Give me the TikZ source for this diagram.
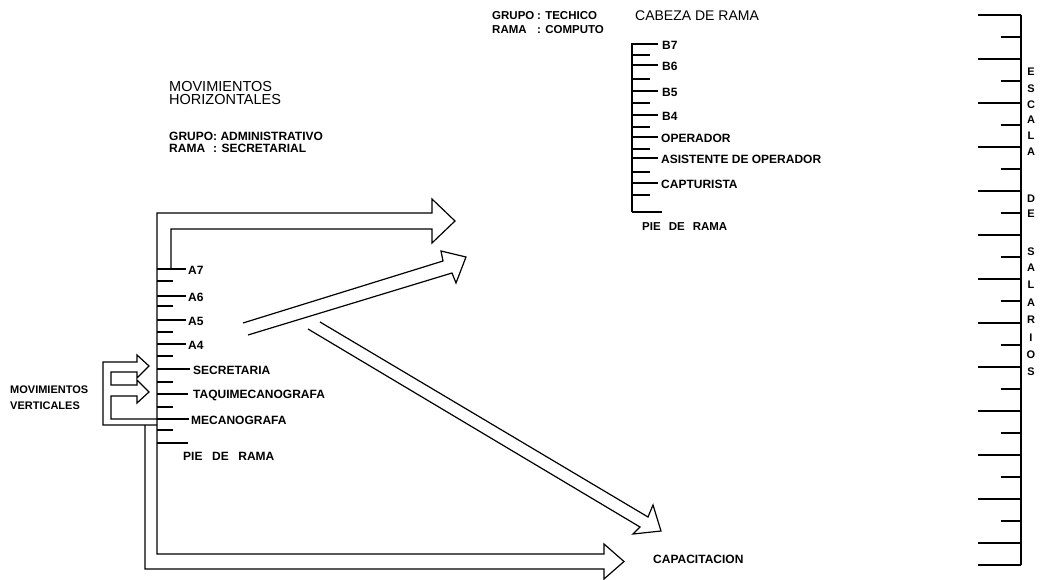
\documentclass[tikz,border=0pt]{standalone}
\usepackage{fontspec}
\setmainfont{Liberation Sans}
\begin{document}
\tikzset{
  ln/.style={line width=1.2pt},
  lb/.style={font=\bfseries\fontsize{12}{13}\selectfont, anchor=west, inner sep=0pt},
  sm/.style={font=\bfseries\fontsize{11.5}{12}\selectfont, anchor=west, inner sep=0pt},
  hd/.style={font=\fontsize{14.5}{15}\selectfont, anchor=west, inner sep=0pt},
  vl/.style={font=\bfseries\fontsize{11}{12}\selectfont, inner sep=0pt},
}
\begin{tikzpicture}[x=1pt,y=-1pt]
\fill[white] (0,0) rectangle (1041,580);
\path[use as bounding box] (0,0) rectangle (1041,580);

% ---------- headings left ----------
\node[hd] (mh1) at (169,87) {MOVIMIENTOS};
\node[hd] (mh2) at (169,100) {HORIZONTALES};
\node[lb] (ga) at (169,136) {GRUPO: ADMINISTRATIVO};
\node[lb] (ra) at (169,148) {\makebox[44pt][l]{RAMA}: SECRETARIAL};

% ---------- headings top ----------
\node[sm] (gt) at (492,16) {\makebox[45pt][l]{GRUPO}: TECHICO};
\node[sm] (rt) at (492,30) {\makebox[45pt][l]{RAMA}: COMPUTO};
\node[font=\fontsize{14}{15}\selectfont, anchor=west, inner sep=0pt] (cab) at (635,16) {CABEZA DE RAMA};

% ---------- top/bottom block arrows and left ladder spine ----------
\draw[ln] (171,269) -- (171,229) -- (432,229) -- (432,243) -- (455,221) -- (432,199) -- (432,213)
  -- (157,213) -- (157,554) -- (604,554) -- (604,544) -- (624,561.5) -- (604,579) -- (604,569)
  -- (145,569) -- (145,425);

% ---------- vertical movements bracket ----------
\draw[ln] (157,419) -- (111,419) -- (111,396) -- (137,396) -- (137,403) -- (149,392) -- (137,380)
  -- (137,385) -- (111,385) -- (111,372) -- (137,372) -- (137,378) -- (149,366) -- (137,355)
  -- (137,362) -- (103,362) -- (103,425) -- (157,425);

% ---------- left ladder ticks ----------
\foreach \y in {269,296,320,344} \draw[ln] (157,\y) -- (186,\y);
\foreach \y in {281,306,332,356,382,407,430} \draw[ln] (157,\y) -- (173,\y);
\draw[ln] (157,369) -- (190,369);
\draw[ln] (157,394) -- (188,394);
\draw[ln] (157,419) -- (189,419);
\draw[ln] (157,443) -- (188,443);

\node[lb] (a7) at (188,270) {A7};
\node[lb] (a6) at (188,297) {A6};
\node[lb] (a5) at (188,321) {A5};
\node[lb] (a4) at (188,345) {A4};
\node[lb] (sec) at (193,370) {SECRETARIA};
\node[lb] (taq) at (193,395) {TAQUIMECANOGRAFA};
\node[lb] (mec) at (191,420) {MECANOGRAFA};
\node[lb] (piel) at (183,456) {PIE\hspace{0.8em}DE\hspace{0.8em}RAMA};

\node[vl, anchor=west] (mv1) at (10,390) {MOVIMIENTOS};
\node[vl, anchor=west] (mv2) at (10,406) {VERTICALES};

% ---------- diagonal block arrows ----------
\draw[ln] (243,323) -- (443,261) -- (441,251) -- (466,257) -- (456,283) -- (452,273) -- (248,335);
\draw[ln] (320,322) -- (648,517) -- (653,505) -- (661,531) -- (633,534) -- (640,527) -- (308,329);

\node[lb] (cap) at (653,559) {CAPACITACION};

% ---------- right ladder ----------
\draw[ln] (632,43) -- (632,212);
\foreach \y in {44,65,91,115,137,158,183} \draw[ln] (632,\y) -- (658,\y);
\draw[ln] (632,212) -- (662,212);
\foreach \y in {55,79,103,127,149,172,195} \draw[ln] (632,\y) -- (650,\y);

\node[lb] (b7) at (662,45) {B7};
\node[lb] (b6) at (662,66) {B6};
\node[lb] (b5) at (662,92) {B5};
\node[lb] (b4) at (662,116) {B4};
\node[lb] (op) at (661,138) {OPERADOR};
\node[lb] (as) at (661,159) {ASISTENTE DE OPERADOR};
\node[lb] (ca) at (661,184) {CAPTURISTA};
\node[sm] (pier) at (642,227) {PIE\hspace{0.7em}DE\hspace{0.7em}RAMA};

% ---------- salary scale ----------
\draw[ln] (1021,15) -- (1021,565);
\foreach \i in {0,...,24} {
  \pgfmathsetmacro{\yy}{15+22*\i}
  \ifodd\i
    \draw[ln] (1001,\yy) -- (1021,\yy);
  \else
    \draw[ln] (978,\yy) -- (1021,\yy);
  \fi
}
\draw[ln] (978,565) -- (1021,565);

\foreach \t/\y [count=\k] in {E/72,S/89,C/105,A/120,L/136,A/152,D/199,E/214,S/252,A/268,L/285,A/303,R/320,I/338,O/355,S/372}
  \node[vl] (esc\k) at (1031,\y) {\t};
\end{tikzpicture}
\end{document}
